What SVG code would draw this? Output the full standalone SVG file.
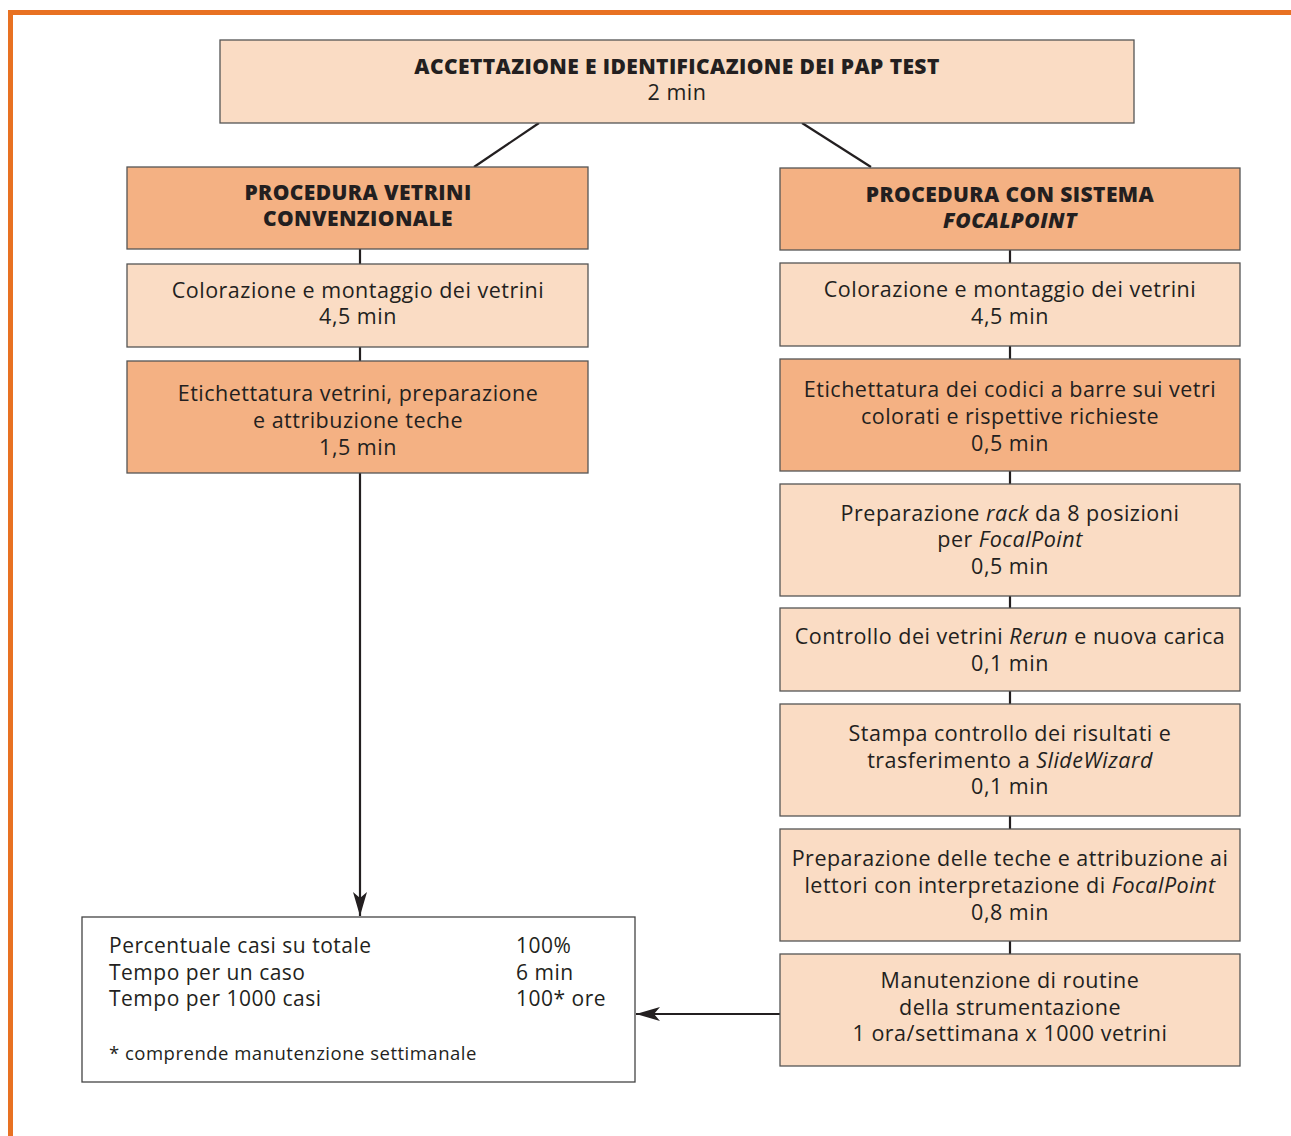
<svg xmlns="http://www.w3.org/2000/svg" width="1291" height="1136" viewBox="0 0 1291 1136">
<style>
.lt{fill:#FADCC4;stroke:#555;stroke-width:1.3}
.dk{fill:#F4B183;stroke:#555;stroke-width:1.3}
.wh{fill:#fff;stroke:#444;stroke-width:1.3}
text{font-family:"Open Sans",Lato,sans-serif;font-size:21.5px;letter-spacing:0.5px;fill:#231f20}
.c{text-anchor:middle}
.b{font-weight:800;font-size:21px;letter-spacing:0.4px}
.i{font-style:italic}
.r{font-size:21px}
.conn{stroke:#231f20;stroke-width:2.2;fill:none}
</style>
<defs>
<marker id="ah2" viewBox="0 0 24 14" refX="24" refY="7" markerWidth="24" markerHeight="14" markerUnits="userSpaceOnUse" orient="auto">
<path d="M0,0 L24,7 L0,14 L6,7 z" fill="#231f20"/>
</marker>
</defs>
<path d="M10.5,1136 V12.5 H1291" fill="none" stroke="#E87122" stroke-width="5"/>
<g id="connectors">
<line class="conn" x1="539" y1="123" x2="474" y2="167"/>
<line class="conn" x1="802" y1="123" x2="871" y2="167"/>
<line class="conn" x1="360" y1="249" x2="360" y2="264"/>
<line class="conn" x1="360" y1="347" x2="360" y2="361"/>
<line class="conn" x1="360" y1="473" x2="360" y2="916" marker-end="url(#ah2)"/>
<line class="conn" x1="1010" y1="250" x2="1010" y2="263"/>
<line class="conn" x1="1010" y1="346" x2="1010" y2="359"/>
<line class="conn" x1="1010" y1="471" x2="1010" y2="484"/>
<line class="conn" x1="1010" y1="596" x2="1010" y2="608"/>
<line class="conn" x1="1010" y1="691" x2="1010" y2="704"/>
<line class="conn" x1="1010" y1="816" x2="1010" y2="829"/>
<line class="conn" x1="1010" y1="941" x2="1010" y2="954"/>
<line class="conn" x1="780" y1="1014" x2="636" y2="1014" marker-end="url(#ah2)"/>
</g>
<g id="n_top">
<rect class="lt" x="220" y="40" width="914" height="83"/>
<text class="c b" x="677" y="74">ACCETTAZIONE E IDENTIFICAZIONE DEI PAP TEST</text>
<text class="c" x="677" y="100">2 min</text>
</g>
<g id="n_left_head">
<rect class="dk" x="127" y="167" width="461" height="82"/>
<text class="c b" x="358" y="200">PROCEDURA VETRINI</text>
<text class="c b" x="358" y="226">CONVENZIONALE</text>
</g>
<g id="n_left_1">
<rect class="lt" x="127" y="264" width="461" height="83"/>
<text class="c" x="358" y="298">Colorazione e montaggio dei vetrini</text>
<text class="c" x="358" y="324">4,5 min</text>
</g>
<g id="n_left_2">
<rect class="dk" x="127" y="361" width="461" height="112"/>
<text class="c" x="358" y="401">Etichettatura vetrini, preparazione</text>
<text class="c" x="358" y="428">e attribuzione teche</text>
<text class="c" x="358" y="455">1,5 min</text>
</g>
<g id="n_right_head">
<rect class="dk" x="780" y="168" width="460" height="82"/>
<text class="c b" x="1010" y="202">PROCEDURA CON SISTEMA</text>
<text class="c b i" x="1010" y="228">FOCALPOINT</text>
</g>
<g id="n_right_1">
<rect class="lt" x="780" y="263" width="460" height="83"/>
<text class="c" x="1010" y="297">Colorazione e montaggio dei vetrini</text>
<text class="c" x="1010" y="324">4,5 min</text>
</g>
<g id="n_right_2">
<rect class="dk" x="780" y="359" width="460" height="112"/>
<text class="c" x="1010" y="397">Etichettatura dei codici a barre sui vetri</text>
<text class="c" x="1010" y="424">colorati e rispettive richieste</text>
<text class="c" x="1010" y="451">0,5 min</text>
</g>
<g id="n_right_3">
<rect class="lt" x="780" y="484" width="460" height="112"/>
<text class="c" x="1010" y="521">Preparazione <tspan class="i">rack</tspan> da 8 posizioni</text>
<text class="c" x="1010" y="547">per <tspan class="i">FocalPoint</tspan></text>
<text class="c" x="1010" y="574">0,5 min</text>
</g>
<g id="n_right_4">
<rect class="lt" x="780" y="608" width="460" height="83"/>
<text class="c" x="1010" y="644">Controllo dei vetrini <tspan class="i">Rerun</tspan> e nuova carica</text>
<text class="c" x="1010" y="671">0,1 min</text>
</g>
<g id="n_right_5">
<rect class="lt" x="780" y="704" width="460" height="112"/>
<text class="c" x="1010" y="741">Stampa controllo dei risultati e</text>
<text class="c" x="1010" y="768">trasferimento a <tspan class="i">SlideWizard</tspan></text>
<text class="c" x="1010" y="794">0,1 min</text>
</g>
<g id="n_right_6">
<rect class="lt" x="780" y="829" width="460" height="112"/>
<text class="c" x="1010" y="866">Preparazione delle teche e attribuzione ai</text>
<text class="c" x="1010" y="893">lettori con interpretazione di <tspan class="i">FocalPoint</tspan></text>
<text class="c" x="1010" y="920">0,8 min</text>
</g>
<g id="n_right_7">
<rect class="lt" x="780" y="954" width="460" height="112"/>
<text class="c" x="1010" y="988">Manutenzione di routine</text>
<text class="c" x="1010" y="1015">della strumentazione</text>
<text class="c" x="1010" y="1041">1 ora/settimana x 1000 vetrini</text>
</g>
<g id="n_result">
<rect class="wh" x="82" y="917" width="553" height="165"/>
<text class="r" x="109" y="953">Percentuale casi su totale</text>
<text class="r" x="516" y="953">100%</text>
<text class="r" x="109" y="980">Tempo per un caso</text>
<text class="r" x="516" y="980">6 min</text>
<text class="r" x="109" y="1006">Tempo per 1000 casi</text>
<text class="r" x="516" y="1006">100* ore</text>
<text x="109" y="1060" style="font-size:18.5px">* comprende manutenzione settimanale</text>
</g>
</svg>
